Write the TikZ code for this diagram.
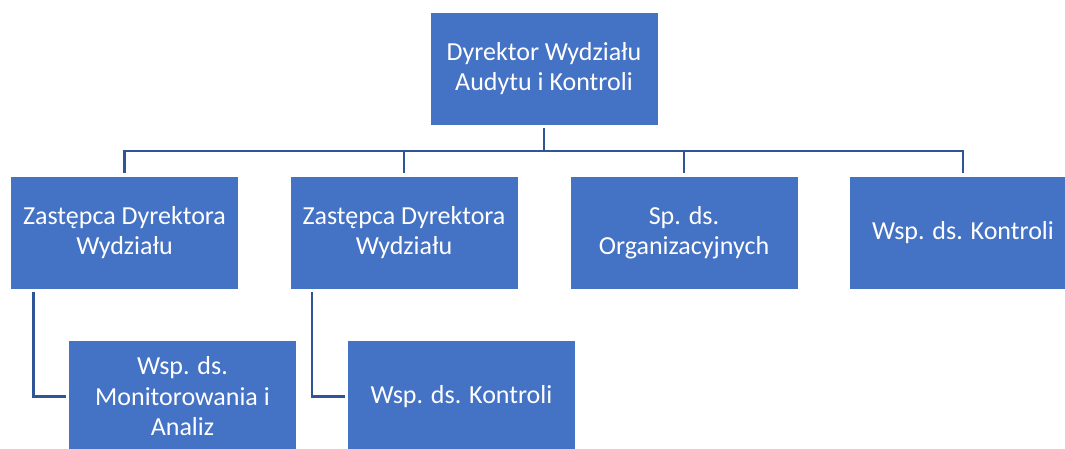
\documentclass[tikz,border=0pt]{standalone}
\usepackage{fontspec}
\setmainfont{Carlito}
\usepackage{tikz}
\usetikzlibrary{positioning}
\definecolor{boxblue}{HTML}{4472C4}
\definecolor{lineblue}{HTML}{2F5597}
\tikzset{
  unit/.style = {rectangle, fill=boxblue, draw=white, line width=0.6pt,
    text=white, minimum width=228pt, minimum height=113pt, inner sep=0pt,
    outer sep=3pt, align=center, font=\fontsize{26}{30.5}\selectfont},
  link/.style = {draw=lineblue, line width=2.4pt}
}
\begin{document}
\begin{tikzpicture}[x=1pt, y=-1pt]
\useasboundingbox (0,0) rectangle (1065,448);
\clip (0,0) rectangle (1065,448);
% top
\node [unit] (dyr) at (544,68.5) {Dyrektor Wydziału\\Audytu i Kontroli};
% second row
\node [unit] (zast1) at (124.5,232.5) {Zastępca Dyrektora\\Wydziału};
\node [unit] (zast2) at (404,232.5) {Zastępca Dyrektora\\Wydziału};
\node [unit] (org) at (684,232.5) {Sp. ds.\\Organizacyjnych};
\node [unit] (kontr) at (963,232.5) {Wsp. ds. Kontroli};
% third row
\node [unit] (monit) at (182.5,396.5) {Wsp. ds.\\Monitorowania i\\Analiz};
\node [unit] (kontr2) at (461.5,396.5) {Wsp. ds. Kontroli};
% connectors
\coordinate (bus) at (0,151);
\draw [link] (dyr.south) -- (dyr.south |- bus);
\draw [link] (zast1.north) |- (dyr.south |- bus) -| (kontr.north);
\foreach \n in {zast2,org}
  \draw [link] (\n.north) -- (\n.north |- bus);
\draw [link] ([xshift=26pt]zast1.south west) |- (monit.west);
\draw [link] ([xshift=25pt]zast2.south west) |- (kontr2.west);
\end{tikzpicture}
\end{document}
